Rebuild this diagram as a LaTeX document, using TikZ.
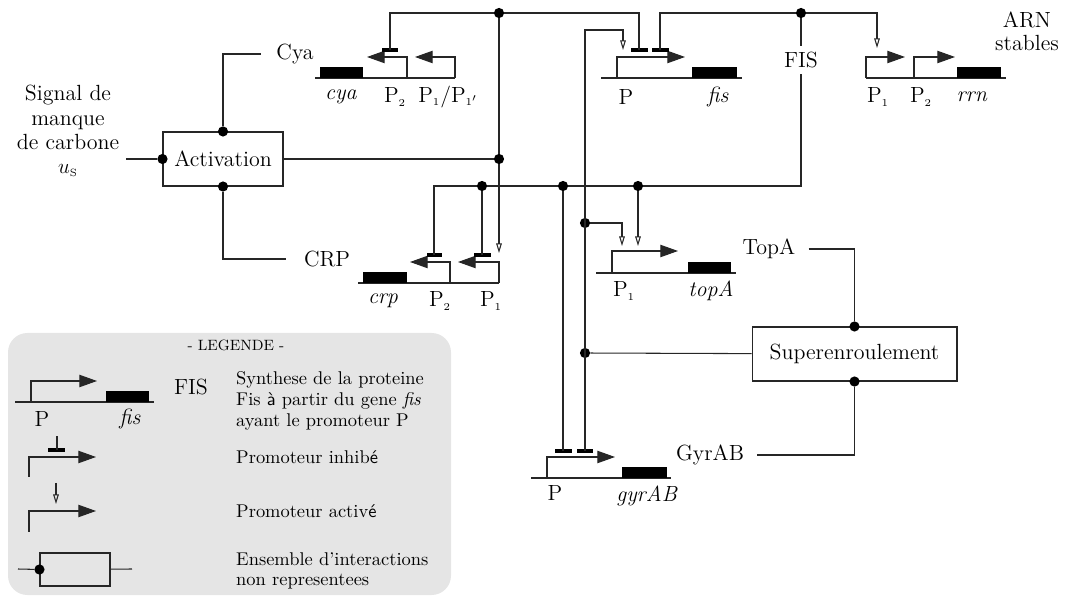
\documentclass[tikz,border=0pt]{standalone}
\usepackage{tikz}
\usetikzlibrary{positioning, arrows.meta}

\begin{document}
\begin{tikzpicture}[
    x=0.02cm, y=-0.02cm,
    font=\fontsize{12.5}{13.3}\selectfont,
    wire/.style={
        line width=0.6pt,
        draw=black!85
    },
    box/.style={
        rectangle,
        draw=black!85,
        line width=0.6pt,
        minimum height=1.08cm,
        inner sep=0pt
    },
    dot/.style={
        circle,
        fill=black,
        inner sep=0pt,
        minimum size=5.8pt
    },
    prom/.style={
        wire,
        -{Triangle[length=10pt, width=7pt]}
    },
    act/.style={
        wire,
        -{Triangle[open, length=5.5pt, width=3.2pt]}
    },
    inhib/.style={
        line width=2pt
    },
    leg/.style={
        font=\fontsize{10.5}{11.8}\selectfont,
        align=left,
        anchor=west
    }
]
\useasboundingbox (0,0) rectangle (1065,597);

% legend background
\fill[black!10, rounded corners=11pt] (8,333) rectangle (451,595);

% boxes and labels
\node[box, minimum width=2.4cm] (act) at (223,159) {Activation};
\node[box, minimum width=4.1cm] (sup) at (854.5,354) {Superenroulement};

\node[align=center, font=\fontsize{12.5}{13.8}\selectfont] (signal) at (68,131) {Signal de\\manque\\de carbone\\$u_{\scriptscriptstyle\mathrm{S}}$};
\node (cyalbl) at (295,54) {Cya};
\node (crplbl) at (327,259) {CRP};
\node (fislbl) at (801,60) {FIS};
\node (topalbl) at (769,249) {TopA};
\node (gyrlbl) at (710,455) {GyrAB};
\node[align=center] (arn) at (1027,31) {ARN\\stables};

% junctions
\node[dot] (dactn) at (act.north) {};
\node[dot] (dacts) at (act.south) {};
\node[dot] (dactw) at (act.west) {};
\node[dot] (dsupn) at (sup.north) {};
\node[dot] (dsups) at (sup.south) {};
\node[dot] (dA) at (499,13) {};
\node[dot] (dB) at (801,13) {};
\node[dot] (dC) at (499,159) {};
\node[dot] (dD) at (482,186) {};
\node[dot] (dE) at (563,186) {};
\node[dot] (dF) at (638,186) {};
\node[dot] (dG) at (585,223) {};
\node[dot] (dH) at (585,353) {};

\coordinate (us) at (126,159);
\coordinate (cyabar) at (390,50);
\coordinate (fisbarA) at (639,50);
\coordinate (fisbarB) at (660,50);
\coordinate (fisact) at (623,50);
\coordinate (fiscorner) at (585,30);
\coordinate (rrnact) at (877,48);
\coordinate (crpact) at (499,253);
\coordinate (crpbarA) at (434,255);
\coordinate (crpbarB) at (482,255);
\coordinate (topactA) at (622,246);
\coordinate (topactB) at (638,246);
\coordinate (gyrbarA) at (563,451);
\coordinate (gyrbarB) at (585,451);

% gene cya
\draw[wire] (315,78) -- (455,78);
\fill (320,67) rectangle (363,78);
\draw[prom] (407,78) -- (407,57) -- (367,57);
\draw[prom] (455,78) -- (455,57) -- (415,57);
\draw[inhib] (382,50) -- (398,50);
\node (cyagene) at (341,97) {\textit{cya}};
\node (cyaPb) at (395,97) {P$_{\scriptscriptstyle 2}$};
\node (cyaPa) at (448,97) {P$_{\scriptscriptstyle 1}$/P$_{\scriptscriptstyle 1'}$};

% gene fis
\draw[wire] (601,78) -- (742,78);
\fill (692,67) rectangle (737,78);
\draw[prom] (617,78) -- (617,57) -- (685,57);
\draw[inhib] (631,50) -- (648,50);
\draw[inhib] (652,50) -- (669,50);
\node (fisP) at (626,97) {P};
\node (fisgene) at (718,97) {\textit{fis}};

% gene rrn
\draw[wire] (866,78) -- (1006,78);
\fill (957,67) rectangle (1001,78);
\draw[prom] (866,78) -- (866,57) -- (905,57);
\draw[prom] (914,78) -- (914,57) -- (955,57);
\node (rrnPa) at (878,97) {P$_{\scriptscriptstyle 1}$};
\node (rrnPb) at (921,97) {P$_{\scriptscriptstyle 2}$};
\node (rrngene) at (972,97) {\textit{rrn}};

% gene crp
\draw[wire] (358,283) -- (499,283);
\fill (363,272) rectangle (407,283);
\draw[prom] (450,283) -- (450,262) -- (410,262);
\draw[prom] (499,283) -- (499,262) -- (458,262);
\draw[inhib] (427,255) -- (442,255);
\draw[inhib] (474,255) -- (491,255);
\node (crpgene) at (383,301) {\textit{crp}};
\node (crpPb) at (440,301) {P$_{\scriptscriptstyle 2}$};
\node (crpPa) at (491,301) {P$_{\scriptscriptstyle 1}$};

% gene topA
\draw[wire] (596,273) -- (736,273);
\fill (688,262) rectangle (731,273);
\draw[prom] (612,273) -- (612,251) -- (678,251);
\node (topP) at (624,291) {P$_{\scriptscriptstyle 1}$};
\node (topgene) at (711,291) {\textit{topA}};

% gene gyrAB
\draw[wire] (531,478) -- (671,478);
\fill (622,467) rectangle (667,478);
\draw[prom] (547,478) -- (547,457) -- (615,457);
\draw[inhib] (555,451) -- (572,451);
\draw[inhib] (577,451) -- (593,451);
\node (gyrP) at (555,493) {P};
\node (gyrgene) at (647,496) {\textit{gyrAB}};

% interactions
\draw[wire] (us) -- (dactw);
\draw[wire] (dactn) |- ([xshift=-5pt]cyalbl.west);
\draw[wire] (dacts) |- ([xshift=-7pt]crplbl.west);
\draw[wire] (act) -- (dC);
\draw[wire] (cyabar) |- (dA) -| (fisbarA);
\draw[wire] (dA) -- (dC);
\draw[act] (dC) -- (crpact);
\draw[wire] (fisbarB) |- (dB);
\draw[act] (dB) -| (rrnact);
\draw[wire] (dB) -- (fislbl);
\draw[wire] (fislbl) |- (dF) -- (dE) -- (dD) -| (crpbarA);
\draw[wire] (dD) -- (crpbarB);
\draw[wire] (dE) -- (gyrbarA);
\draw[act] (dF) -- (topactB);
\draw[act] (gyrbarB) -- (fiscorner) -| (fisact);
\draw[act] (dG) -| (topactA);
\draw[wire] (dH) -- (sup);
\draw[wire] ([xshift=4pt]topalbl.east) -| (dsupn);
\draw[wire] ([xshift=4pt]gyrlbl.east) -| (dsups);

% legend
\node[font=\fontsize{8.5}{10}\selectfont] (legtitle) at (236,345) {- LEGENDE -};

\draw[wire] (15,402) -- (154,402);
\fill (106,391) rectangle (149,402);
\draw[prom] (31,402) -- (31,381) -- (97,381);
\node (legP) at (42,419) {P};
\node (legfis) at (130,419) {\textit{fis}};
\node (legFIS) at (191,387) {FIS};
\node[leg] (legtxtA) at (230,401) {Synthese de la proteine\\Fis \textsf{à} partir du gene \textit{fis}\\ayant le promoteur P};

\draw[prom] (29,477) -- (29,457) -- (96,457);
\draw[inhib] (48,450) -- (65,450);
\draw[wire] (57,450) -- (57,436);
\node[leg] (legtxtB) at (230,457) {Promoteur inhib\textsf{é}};

\draw[prom] (29,532) -- (29,511) -- (96,511);
\draw[act] (56,483) -- (56,504);
\node[leg] (legtxtC) at (230,511) {Promoteur activ\textsf{é}};

\node[box, minimum width=1.4cm, minimum height=0.66cm] (legbox) at (75,569.5) {};
\node[dot] (legdot) at (legbox.west) {};
\coordinate (legin) at (18,569);
\coordinate (legout) at (132,569);
\draw[wire] (legin) -- (legdot);
\draw[wire] (legbox) -- (legout);
\node[leg] (legtxtD) at (230,571) {Ensemble d'interactions\\non representees};

\end{tikzpicture}
\end{document}
